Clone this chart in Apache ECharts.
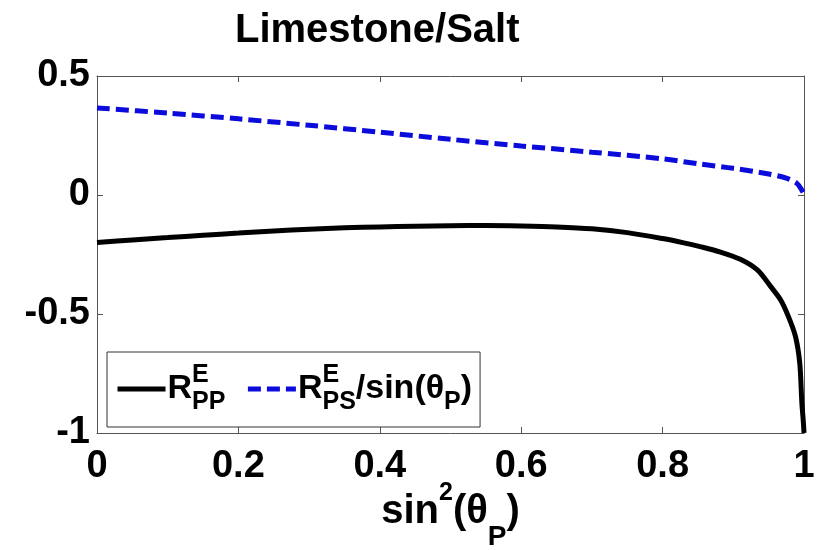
<!DOCTYPE html>
<html>
<head>
<meta charset="utf-8">
<script src="https://cdn.jsdelivr.net/npm/echarts@6/dist/echarts.min.js"></script>
<style>html,body{margin:0;padding:0;background:#fff;}#c{width:825px;height:550px;}</style>
</head>
<body>
<div id="c"></div>
<script>
// R_PP^E curve
const xPP = [0, 0.05, 0.1, 0.15, 0.2, 0.25, 0.3, 0.35, 0.4, 0.45, 0.5, 0.55, 0.6, 0.65, 0.7, 0.75, 0.8, 0.83, 0.853, 0.882, 0.91, 0.934, 0.953, 0.967, 0.978, 0.988, 0.994, 0.997, 0.999, 1.0];
const yPP = [-0.200, -0.189, -0.179, -0.169, -0.160, -0.151, -0.144, -0.138, -0.134, -0.131, -0.129, -0.128, -0.130, -0.134, -0.142, -0.158, -0.183, -0.201, -0.217, -0.240, -0.270, -0.315, -0.385, -0.441, -0.511, -0.595, -0.707, -0.875, -0.95, -1.0];
// R_PS^E / sin(theta_P) curve
const xPS = [0, 0.1, 0.2, 0.3, 0.4, 0.5, 0.6, 0.7, 0.8, 0.853, 0.9, 0.95, 0.976, 0.99, 0.997, 1.0];
const yPS = [0.366, 0.344, 0.320, 0.293, 0.264, 0.234, 0.206, 0.180, 0.152, 0.130, 0.112, 0.088, 0.070, 0.049, 0.020, 0.005];
const xTicks = [0, 0.2, 0.4, 0.6, 0.8, 1];
const yTicks = [-1, -0.5, 0, 0.5];

const chart = echarts.init(document.getElementById('c'), null, {renderer: 'canvas'});
const FONT = 'Liberation Sans, Arial, sans-serif';
const axisColor = '#555';
const fmt = v => (Math.abs(v) < 1e-9 ? '0' : String(+v.toFixed(2)));

const baseAxis = {
  type: 'value',
  axisLine: {show: true, onZero: false, lineStyle: {color: axisColor, width: 1}},
  axisTick: {show: true, inside: true, length: 6, lineStyle: {color: axisColor, width: 1}},
  splitLine: {show: false}
};

chart.setOption({
  animation: false,
  backgroundColor: '#fff',
  title: {
    text: 'Limestone/Salt',
    left: 230, top: 6,
    textStyle: {fontFamily: FONT, fontWeight: 'bold', fontSize: 40, color: '#000'}
  },
  grid: {left: 97, right: 21, top: 76, bottom: 117, containLabel: false, outerBoundsMode: 'none'},
  legend: {
    left: 107, top: 352,
    orient: 'horizontal',
    itemWidth: 48, itemHeight: 14, itemGap: 20,
    padding: [11, 8, 12, 8],
    borderColor: '#333', borderWidth: 1, backgroundColor: '#fff',
    lineStyle: {width: 5},
    itemStyle: {opacity: 0, borderWidth: 0},
    data: ['PP', 'PS'],
    formatter: function (name) {
      if (name === 'PP') return '{r|R}{e|E}{s|PP}';
      return '{r|R}{e|E}{s|PS}{r|/sin(θ}{s|P}{r|)}';
    },
    textStyle: {
      fontFamily: FONT, fontWeight: 'bold', color: '#000', padding: [0, 0, 0, -3],
      rich: {
        r: {fontFamily: FONT, fontWeight: 'bold', fontSize: 34, color: '#000', lineHeight: 52, verticalAlign: 'middle'},
        e: {fontFamily: FONT, fontWeight: 'bold', fontSize: 25, color: '#000', lineHeight: 22, verticalAlign: 'top', width: 0, align: 'left'},
        s: {fontFamily: FONT, fontWeight: 'bold', fontSize: 25, color: '#000', lineHeight: 22, verticalAlign: 'bottom'}
      }
    }
  },
  xAxis: [
    Object.assign({}, baseAxis, {
      position: 'bottom', min: 0, max: 1, interval: 0.2,
      axisLabel: {show: true, fontFamily: FONT, fontWeight: 'bold', fontSize: 38, color: '#000', margin: 15, formatter: fmt},
      name: '{t|sin}{sup|2}{t|(θ}{sub|P}{t|)}',
      nameLocation: 'middle', nameGap: 44, nameMoveOverlap: false,
      nameTextStyle: {
        fontFamily: FONT, fontWeight: 'bold', color: '#000',
        rich: {
          t: {fontFamily: FONT, fontWeight: 'bold', fontSize: 40, color: '#000', lineHeight: 70, verticalAlign: 'middle'},
          sup: {fontFamily: FONT, fontWeight: 'bold', fontSize: 25, color: '#000', lineHeight: 20, verticalAlign: 'middle', padding: [0, 0, 38, 0]},
          sub: {fontFamily: FONT, fontWeight: 'bold', fontSize: 28, color: '#000', lineHeight: 20, verticalAlign: 'middle', padding: [50, 0, 0, 0]}
        }
      }
    }),
    Object.assign({}, baseAxis, {
      position: 'top', min: 0, max: 1, interval: 0.2,
      axisLabel: {show: false}
    })
  ],
  yAxis: [
    Object.assign({}, baseAxis, {
      position: 'left', min: -1, max: 0.5, interval: 0.5,
      axisLabel: {show: true, fontFamily: FONT, fontWeight: 'bold', fontSize: 38, color: '#000', margin: 7, formatter: fmt}
    }),
    Object.assign({}, baseAxis, {
      position: 'right', min: -1, max: 0.5, interval: 0.5,
      axisLabel: {show: false}
    })
  ],
  series: [
    {
      name: 'PP', type: 'line', xAxisIndex: 0, yAxisIndex: 0,
      showSymbol: false, symbol: 'none', smooth: 0.3,
      lineStyle: {color: '#000', width: 5, type: 'solid'},
      itemStyle: {color: '#000'},
      data: xPP.map((x, i) => [x, yPP[i]])
    },
    {
      name: 'PS', type: 'line', xAxisIndex: 0, yAxisIndex: 0,
      showSymbol: false, symbol: 'none', smooth: 0.3,
      lineStyle: {color: '#0b0bdc', width: 5, type: [13, 6]},
      itemStyle: {color: '#0b0bdc'},
      data: xPS.map((x, i) => [x, yPS[i]])
    }
  ]
});
</script>
</body>
</html>
